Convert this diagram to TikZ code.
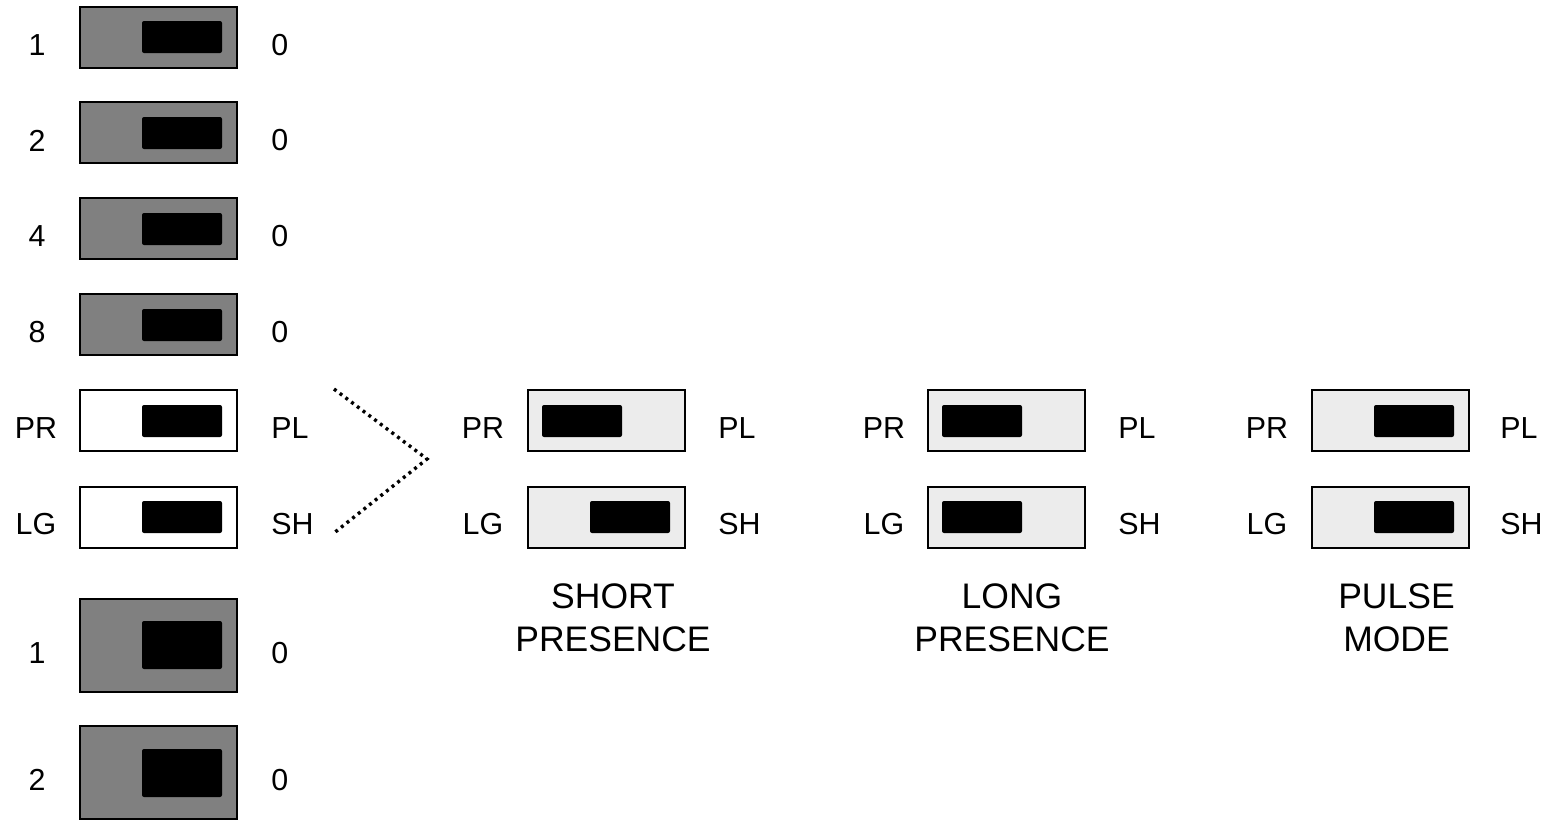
\documentclass[tikz,border=0pt]{standalone}
\usepackage{fontspec}
\setmainfont{Liberation Sans}
\definecolor{swdark}{RGB}{128,128,128}
\definecolor{swlight}{RGB}{236,236,236}
\begin{document}
\begin{tikzpicture}[x=0.5pt,y=-0.5pt,
 box/.style={draw=black, line width=1pt, inner sep=0pt, minimum width=78.5pt, minimum height=30.5pt},
 dark/.style={box, fill=swdark},
 open/.style={box, fill=white},
 light/.style={box, fill=swlight},
 tall/.style={minimum height=46.5pt},
 knob/.style={fill=black, inner sep=0pt, minimum width=40pt, minimum height=16pt, rounded corners=1pt},
 bigknob/.style={knob, minimum height=24pt},
 lab/.style={inner sep=0pt, font=\fontsize{15.2}{18}\selectfont},
 llab/.style={lab, anchor=center},
 rlab/.style={lab, anchor=west},
 captxt/.style={inner sep=0pt, align=center, font=\fontsize{17.75}{21.75}\selectfont},
 dots/.style={line width=1.7pt, dash pattern=on 1.5pt off 2.1pt}
]
\useasboundingbox (0,0) rectangle (1553,820);

% ---- left column ----
\node[dark] (s1) at (158.5,37.5) {};
\node[knob] (k1) at (182,37) {};
\node[llab] (l1) at (37,45) {1};
\node[rlab] (r1) at (271,45) {0};

\node[dark] (s2) at (158.5,132.5) {};
\node[knob] (k2) at (182,133) {};
\node[llab] (l2) at (37,140.5) {2};
\node[rlab] (r2) at (271,140.5) {0};

\node[dark] (s4) at (158.5,228.5) {};
\node[knob] (k4) at (182,229) {};
\node[llab] (l4) at (37,236.5) {4};
\node[rlab] (r4) at (271,236.5) {0};

\node[dark] (s8) at (158.5,324.5) {};
\node[knob] (k8) at (182,325) {};
\node[llab] (l8) at (37,332.5) {8};
\node[rlab] (r8) at (271,332.5) {0};

\node[open] (spr) at (158.5,420.5) {};
\node[knob] (kpr) at (182,421) {};
\node[llab] (lpr) at (36,428.5) {PR};
\node[rlab] (rpr) at (271,428.5) {PL};

\node[open] (slg) at (158.5,517) {};
\node[knob] (klg) at (182,517) {};
\node[llab] (llg) at (36,524.5) {LG};
\node[rlab] (rlg) at (271,524.5) {SH};

\node[dark, tall] (b1) at (158.5,645.5) {};
\node[bigknob] (kb1) at (182,645) {};
\node[llab] (lb1) at (37,653) {1};
\node[rlab] (rb1) at (271,653) {0};

\node[dark, tall] (b2) at (158.5,772.5) {};
\node[bigknob] (kb2) at (182,773) {};
\node[llab] (lb2) at (37,780) {2};
\node[rlab] (rb2) at (271,780) {0};

% ---- dotted connector ----
\coordinate (d1) at (334,389);
\coordinate (dap) at (427,459);
\coordinate (d2) at (334,533);
\draw[dots] (d1) -- (dap) -- (d2);

% ---- short presence ----
\node[light] (apr) at (606.5,420.5) {};
\node[knob] (akpr) at (582,421) {};
\node[llab] (alpr) at (483,428.5) {PR};
\node[rlab] (arpr) at (718,428.5) {PL};
\node[light] (alg) at (606.5,517) {};
\node[knob] (aklg) at (630,517) {};
\node[llab] (allg) at (483,524.5) {LG};
\node[rlab] (arlg) at (718,524.5) {SH};
\node[captxt] (acap) at (613,618) {SHORT\\PRESENCE};

% ---- long presence ----
\node[light] (bpr) at (1006.5,420.5) {};
\node[knob] (bkpr) at (982,421) {};
\node[llab] (blpr) at (884,428.5) {PR};
\node[rlab] (brpr) at (1118,428.5) {PL};
\node[light] (blg) at (1006.5,517) {};
\node[knob] (bklg) at (982,517) {};
\node[llab] (bllg) at (884,524.5) {LG};
\node[rlab] (brlg) at (1118,524.5) {SH};
\node[captxt] (bcap) at (1012,618) {LONG\\PRESENCE};

% ---- pulse mode ----
\node[light] (cpr) at (1390,420.5) {};
\node[knob] (ckpr) at (1414,421) {};
\node[llab] (clpr) at (1267,428.5) {PR};
\node[rlab] (crpr) at (1500,428.5) {PL};
\node[light] (clg) at (1390,517) {};
\node[knob] (cklg) at (1414,517) {};
\node[llab] (cllg) at (1267,524.5) {LG};
\node[rlab] (crlg) at (1500,524.5) {SH};
\node[captxt] (ccap) at (1396.5,618) {PULSE\\MODE};
\end{tikzpicture}
\end{document}
